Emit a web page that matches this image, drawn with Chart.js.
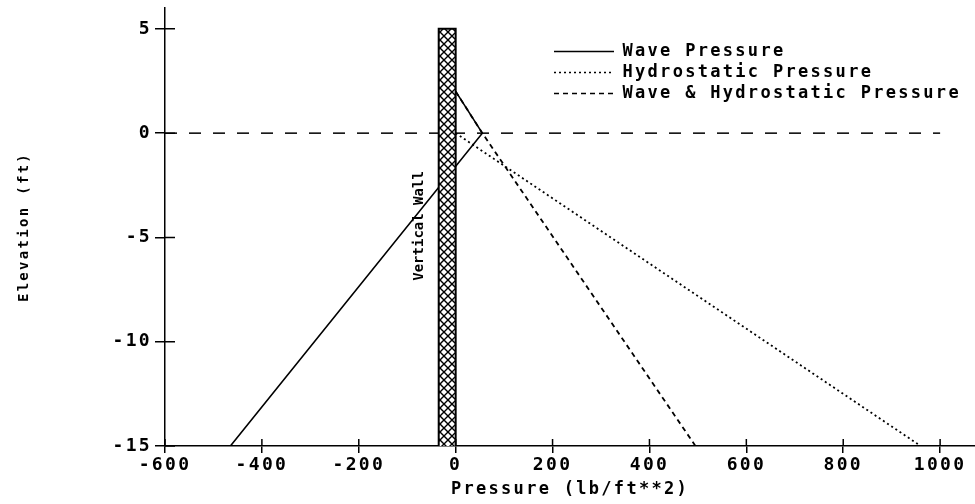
<!DOCTYPE html>
<html><head><meta charset="utf-8">
<script src="https://cdn.jsdelivr.net/npm/chart.js@4.4.1/dist/chart.umd.min.js"></script>
<style>html,body{margin:0;padding:0;background:#fff}canvas{display:block}</style>
</head><body>
<canvas id="c" width="975" height="504"></canvas>
<script>
// ---- data ----
const seriesLabels = ['Wave Pressure', 'Hydrostatic Pressure', 'Wave & Hydrostatic Pressure'];
const wavePressureX = [0, 55, -465];
const wavePressureY = [2, 0, -15];
const hydrostaticX = [0, 960];
const hydrostaticY = [0, -15];
const combinedX = [0, 55, 495];
const combinedY = [2, 0, -15];
const stillWaterX = [-600, 1000];
const stillWaterY = [0, 0];
const wallX = [-35, -35, 0, 0];
const wallY = [-15, 5, 5, -15];
const xTickValues = [-600, -400, -200, 0, 200, 400, 600, 800, 1000];
const yTickValues = [-15, -10, -5, 0, 5];
const xRange = [-600, 1072];
const yRange = [-15, 6];
const wallLabel = 'Vertical Wall';
const wallLabelY = -4.45;
const xTitle = 'Pressure (lb/ft**2)';
const yTitle = 'Elevation (ft)';

const pts = (xs, ys) => xs.map((x, i) => ({x, y: ys[i]}));
const FONT = '"DejaVu Sans Mono", "Liberation Mono", monospace';
const SPACING = '2.3px';

const canvas = document.getElementById('c');
const ctx0 = canvas.getContext('2d');
function hatchPattern() {
  const t = document.createElement('canvas');
  t.width = 8; t.height = 8;
  const g = t.getContext('2d');
  g.fillStyle = '#fff'; g.fillRect(0, 0, 8, 8);
  g.strokeStyle = '#000'; g.lineWidth = 1.4;
  g.beginPath();
  g.moveTo(0, 0); g.lineTo(8, 8);
  g.moveTo(8, 0); g.lineTo(0, 8);
  g.stroke();
  return ctx0.createPattern(t, 'repeat');
}

const spacingPlugin = {
  id: 'spacing',
  beforeLayout(chart) { chart.ctx.letterSpacing = SPACING; },
  beforeDraw(chart) { chart.ctx.letterSpacing = SPACING; }
};
const legendMover = {
  id: 'legendMover',
  afterLayout(chart) {
    const l = chart.legend;
    if (!l) return;
    const w = l.width, h = l.height;
    l.left = 550; l.top = 39; l.right = l.left + w; l.bottom = l.top + h + 10;
  }
};
const innerTicks = {
  id: 'innerTicks',
  afterDraw(chart) {
    const {ctx, scales: {x, y}, chartArea} = chart;
    ctx.save();
    ctx.strokeStyle = '#000'; ctx.lineWidth = 1.5;
    ctx.beginPath();
    xTickValues.forEach(v => {
      const px = x.getPixelForValue(v);
      ctx.moveTo(px, chartArea.bottom); ctx.lineTo(px, chartArea.bottom - 7);
    });
    yTickValues.forEach(v => {
      const py = y.getPixelForValue(v);
      ctx.moveTo(chartArea.left, py); ctx.lineTo(chartArea.left + 10, py);
    });
    ctx.stroke();
    // wall label
    const lx = x.getPixelForValue(wallX[0]) - 19;
    const ly = y.getPixelForValue(wallLabelY);
    ctx.letterSpacing = '0px';
    ctx.translate(lx, ly);
    ctx.rotate(-Math.PI / 2);
    ctx.font = 'bold 14px ' + FONT;
    ctx.fillStyle = '#000';
    ctx.textAlign = 'center';
    ctx.textBaseline = 'middle';
    ctx.fillText(wallLabel, 0, 0);
    ctx.restore();
  }
};

const axisCommon = {
  grid: {drawOnChartArea: false, drawTicks: true, color: '#000', lineWidth: 1.5},
  border: {display: true, color: '#000', width: 1.5}
};

new Chart(canvas, {
  type: 'scatter',
  data: {
    datasets: [
      {label: seriesLabels[0], data: pts(wavePressureX, wavePressureY), showLine: true,
       borderColor: '#000', borderWidth: 1.6, pointRadius: 0, fill: false, order: 1},
      {label: seriesLabels[1], data: pts(hydrostaticX, hydrostaticY), showLine: true,
       borderColor: '#000', borderWidth: 1.8, borderDash: [2, 3], pointRadius: 0, fill: false, order: 2},
      {label: seriesLabels[2], data: pts(combinedX, combinedY), showLine: true,
       borderColor: '#000', borderWidth: 1.8, borderDash: [5, 4], pointRadius: 0, fill: false, order: 3},
      {label: 'SWL', data: pts(stillWaterX, stillWaterY), showLine: true,
       borderColor: '#000', borderWidth: 1.5, borderDash: [12, 12], pointRadius: 0, fill: false, order: 4},
      {label: 'Wall', data: pts(wallX, wallY), showLine: true,
       borderColor: '#000', borderWidth: 2, backgroundColor: hatchPattern(),
       pointRadius: 0, fill: {value: -15}, order: 0}
    ]
  },
  options: {
    responsive: false,
    animation: false,
    layout: {padding: {top: 8, right: 0, left: 0, bottom: 0}},
    plugins: {
      tooltip: {enabled: false},
      legend: {
        position: 'chartArea',
        align: 'start',
        labels: {
          filter: item => seriesLabels.includes(item.text),
          generateLabels: chart => Chart.defaults.plugins.legend.labels.generateLabels(chart).map(it => {
            const ds = chart.data.datasets[it.datasetIndex];
            it.lineDash = ds.borderDash ? ds.borderDash.slice() : [];
            it.lineWidth = 1.6;
            it.strokeStyle = '#000';
            it.fillStyle = '#000';
            it.pointStyle = 'line';
            return it;
          }),
          usePointStyle: true,
          pointStyle: 'line',
          pointStyleWidth: 60,
          color: '#000',
          padding: 4,
          font: {family: FONT, size: 17, weight: 'bold'}
        }
      }
    },
    scales: {
      x: Object.assign({}, axisCommon, {
        type: 'linear', min: xRange[0], max: xRange[1],
        grid: Object.assign({}, axisCommon.grid, {tickLength: 7}),
        afterBuildTicks: s => { s.ticks = xTickValues.map(v => ({value: v})); },
        afterFit: s => { s.height = 58; s.paddingLeft = 0; s.paddingRight = 0; },
        ticks: {color: '#000', padding: 2, maxRotation: 0, autoSkip: false,
                callback: v => String(v),
                font: {family: FONT, size: 18, weight: 'bold'}},
        title: {display: true, text: xTitle, color: '#000', padding: {top: 0, bottom: 4},
                font: {family: FONT, size: 17, weight: 'bold'}}
      }),
      y: Object.assign({}, axisCommon, {
        type: 'linear', min: yRange[0], max: yRange[1],
        grid: Object.assign({}, axisCommon.grid, {tickLength: 10}),
        afterBuildTicks: s => { s.ticks = yTickValues.map(v => ({value: v})); },
        afterFit: s => { s.width = 165; s.paddingTop = 0; s.paddingBottom = 0; },
        ticks: {color: '#000', padding: 3, autoSkip: false,
                callback: v => String(v),
                font: {family: FONT, size: 18, weight: 'bold'}},
        title: {display: true, text: yTitle, color: '#000', padding: {top: 16, bottom: 0},
                font: {family: FONT, size: 14, weight: 'bold'}}
      })
    }
  },
  plugins: [spacingPlugin, legendMover, innerTicks]
});
</script>
</body></html>
